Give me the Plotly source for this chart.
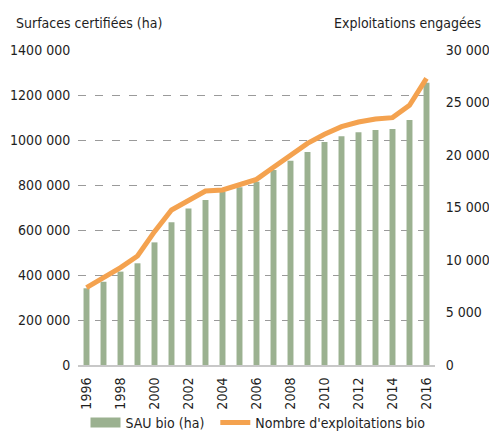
import plotly.graph_objects as go

years = list(range(1996, 2017))
sau_bio = [341000, 370000, 415000, 452000, 545000, 634000, 696000, 733000, 770000, 790000,
           815000, 867000, 908000, 947000, 991000, 1017000, 1035000, 1044000, 1049000, 1089000, 1255000]
exploitations = [7360, 8250, 9270, 10380, 12700, 14760, 15650, 16570, 16670, 17140,
                 17680, 18830, 19900, 21110, 21970, 22700, 23140, 23430, 23560, 24730, 27300]

left_vals = [0, 200000, 400000, 600000, 800000, 1000000, 1200000, 1400000]
left_text = ["0", "200 000", "400 000", "600 000", "800 000", "1000 000", "1200 000", "1400 000"]
right_vals = [0, 5000, 10000, 15000, 20000, 25000, 30000]
right_text = ["0", "5 000", "10 000", "15 000", "20 000", "25 000", "30 000"]
year_ticks = years[::2]

FONT = "DejaVu Sans Condensed, Liberation Sans Narrow, Arial Narrow, sans-serif"
FS = 14
GREEN = "#9bb190"
ORANGE = "#f4a24f"
TXT = "#1e1e1e"

fig = go.Figure()
fig.add_trace(go.Bar(x=years, y=sau_bio, marker=dict(color=GREEN, line=dict(width=0)),
                     name="SAU bio (ha)", showlegend=False, legendgroup="sau", yaxis="y"))
fig.add_trace(go.Scatter(x=[None], y=[None], mode="lines", line=dict(color=GREEN, width=14),
                         name="SAU bio (ha)", legendgroup="sau", showlegend=True, legend="legend"))
fig.add_trace(go.Scatter(x=years, y=exploitations, mode="lines", line=dict(color=ORANGE, width=5),
                         name="Nombre d'exploitations bio", yaxis="y2", legend="legend2"))

leg_common = dict(orientation="h", yanchor="middle", xanchor="left", y=-0.184,
                  font=dict(size=FS), bgcolor="rgba(0,0,0,0)", itemwidth=30)

fig.update_layout(
    width=489, height=432,
    margin=dict(l=77.5, r=54, t=50, b=67, autoexpand=False),
    paper_bgcolor="white", plot_bgcolor="white",
    font=dict(family=FONT, size=FS, color=TXT),
    bargap=0.65,
    xaxis=dict(range=[1995.5, 2016.5], tickvals=year_ticks, tickangle=-90,
               showgrid=False, zeroline=False, showline=True, linecolor="#c8c8c8", linewidth=2,
               ticks="outside", ticklen=5, tickcolor="rgba(0,0,0,0)", tickfont=dict(size=FS)),
    yaxis=dict(range=[0, 1400000], tickvals=left_vals, ticktext=left_text,
               showgrid=True, gridcolor="#9a9a9a", gridwidth=1, griddash="8px,9px",
               zeroline=False, showline=False, ticks="outside", ticklen=4,
               tickcolor="rgba(0,0,0,0)", tickfont=dict(size=FS)),
    yaxis2=dict(range=[0, 30000], tickvals=right_vals, ticktext=right_text, overlaying="y",
                side="right", showgrid=False, zeroline=False, showline=False,
                ticks="outside", ticklen=7, tickcolor="rgba(0,0,0,0)", tickfont=dict(size=FS)),
    legend=dict(x=0.021, **leg_common),
    legend2=dict(x=0.3846, **leg_common),
    annotations=[
        dict(text="Surfaces certifiées (ha)", xref="paper", yref="paper", x=-0.18, y=1.086,
             xanchor="left", yanchor="middle", showarrow=False, font=dict(size=FS)),
        dict(text="Exploitations engagées", xref="paper", yref="paper", x=1.134, y=1.086,
             xanchor="right", yanchor="middle", showarrow=False, font=dict(size=FS)),
    ],
)

fig.write_html(
    "out.html",
    config={"displayModeBar": False},
    post_script="document.documentElement.style.overflow='hidden';"
                "document.body.style.margin='0';document.body.style.overflow='hidden';",
)
